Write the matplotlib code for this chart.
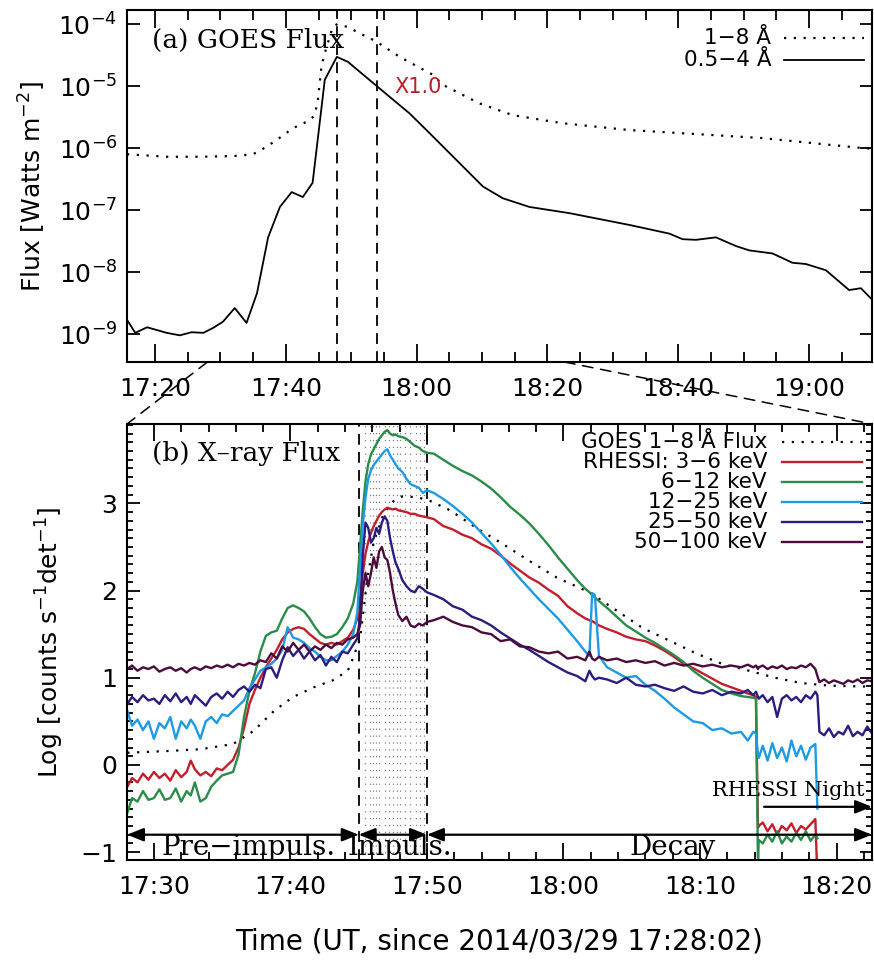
import numpy as np
import matplotlib
matplotlib.use('Agg')
import matplotlib.pyplot as plt
from matplotlib.patches import ConnectionPatch
from matplotlib.ticker import MultipleLocator, NullLocator

plt.rcParams['font.family'] = 'DejaVu Sans'
plt.rcParams['mathtext.fontset'] = 'dejavusans'
plt.rcParams['axes.linewidth'] = 1.5

nan = float('nan')

# ---- GOES light curves, time in minutes after 17:00 UT, log10 flux [W m^-2]
goes_long_t = [15.73, 21.8, 26.9, 31.9, 35.0, 37.05, 38.6, 41.1, 43.7, 44.4, 44.9, 45.45,
               45.95, 47.2, 47.9, 49.5, 51.3, 53.8, 57.4, 62.5, 64.0, 69.6, 74.7, 82.3,
               92.5, 105.2, 112.9, 128.1, 129.6]
goes_long_log = [-6.10, -6.14, -6.14, -6.13, -6.10, -5.98, -5.87, -5.68, -5.55, -5.47, -5.23, -4.69,
                 -4.47, -4.04, -4.00, -4.05, -4.15, -4.28, -4.53, -4.82, -4.98, -5.28, -5.47, -5.60,
                 -5.71, -5.79, -5.84, -6.00, -6.01]

goes_short_t = [15.73, 17.0, 18.8, 21.8, 23.8, 25.6, 27.4, 28.9, 30.4, 32.2, 34.0, 35.6,
                37.3, 39.1, 40.9, 42.6, 44.1, 45.96, 47.8, 49.5, 51.3, 53.9, 58.9, 61.98,
                66.06, 70.13, 73.18, 77.25, 83.36, 92.52, 98.63, 100.66, 102.7, 105.75, 108.8,
                110.84, 114.4, 117.45, 119.49, 122.55, 126.1, 127.9, 129.67]
goes_short_log = [-8.77, -8.98, -8.89, -8.98, -9.02, -8.97, -8.98, -8.90, -8.80, -8.58, -8.82, -8.34,
                  -7.44, -6.95, -6.71, -6.79, -6.56, -4.90, -4.53, -4.61, -4.77, -5.00, -5.44, -5.76,
                  -6.19, -6.62, -6.81, -6.95, -7.05, -7.24, -7.38, -7.47, -7.48, -7.44, -7.58,
                  -7.65, -7.70, -7.85, -7.87, -7.97, -8.29, -8.26, -8.45]

goes_marks = [47.9, 54.0]
flare_class = 'X1.0'

a_ticks = [20, 40, 60, 80, 100, 120]
a_labels = ['17:20', '17:40', '18:00', '18:20', '18:40', '19:00']

# ---- RHESSI count rates (log10 counts s^-1 det^-1), common time grid
t_rhessi = [28.05, 28.4, 28.8, 29.2, 29.6, 30.0, 30.4, 30.8, 31.2, 31.6, 32.0, 32.4, 32.7, 33.0,
            33.4, 33.8, 34.2, 34.6, 35.0,
            35.4, 35.8, 36.2, 36.6, 37.0, 37.4, 37.8, 38.2, 38.6, 39.0, 39.4, 39.8, 40.2, 40.6,
            41.0, 41.4, 41.8, 42.2, 42.6, 43.0, 43.4, 43.8, 44.2, 44.6,
            44.9, 45.1, 45.3, 45.5, 45.7, 45.9, 46.1, 46.3, 46.5, 46.7, 46.9, 47.1, 47.3, 47.5,
            47.7, 47.9, 48.2, 48.5, 48.8, 49.1, 49.4, 49.7, 50.0,
            50.5, 51.2, 51.9, 52.6, 53.3, 54.0, 54.7, 55.4, 56.1, 56.8, 57.5, 58.2, 58.9, 59.6,
            60.3, 61.0, 61.6, 61.9, 62.1, 62.3, 62.6, 63.2, 63.9, 64.6, 65.3, 66.0, 66.7, 67.4,
            68.1, 68.8, 69.5, 70.2, 70.9, 71.6, 72.3, 73.0, 73.5, 73.9,
            74.1, 74.25, 74.3, 74.6, 74.95, 75.3, 75.65, 76.0, 76.35, 76.7, 77.05, 77.4, 77.75,
            78.1, 78.45, 78.6,
            78.75, 79.1, 79.45, 79.8, 80.15, 80.5, 80.85, 81.2, 81.55, 81.9, 82.25, 82.6]

r_3_6 = [-0.25, -0.15, -0.2, -0.1, -0.17, -0.08, -0.15, -0.1, -0.18, -0.06, -0.14, -0.08, 0.05, -0.05,
         -0.12, -0.08, -0.13, -0.04, -0.06,
         0.0, 0.06, 0.2, 0.42, 0.7, 0.86, 1.0, 1.12, 1.22, 1.32, 1.44, 1.52, 1.56, 1.58,
         1.56, 1.5, 1.45, 1.4, 1.38, 1.4, 1.38, 1.42, 1.46, 1.55,
         1.68, 1.9, 2.2, 2.42, 2.56, 2.66, 2.74, 2.8, 2.86, 2.9, 2.93, 2.95, 2.94, 2.93,
         2.94, 2.92, 2.91, 2.9, 2.88, 2.88, 2.86, 2.85, 2.84,
         2.82, 2.74, 2.7, 2.64, 2.6, 2.53, 2.48, 2.4, 2.31, 2.23, 2.15, 2.09, 2.01, 1.94,
         1.82, 1.74, 1.68, 1.66, 1.65, 1.63, 1.6, 1.56, 1.52, 1.47, 1.44, 1.42, 1.37, 1.31,
         1.24, 1.16, 1.11, 1.05, 0.99, 0.93, 0.89, 0.85, 0.82, 0.8,
         0.78, -0.72, -0.7, -0.66, -0.76, -0.68, -0.8, -0.7, -0.75, -0.67, -0.78, -0.7, -0.74,
         -0.68, -0.62, -1.3,
         nan, nan, nan, nan, nan, nan, nan, nan, nan, nan, nan, nan]

r_6_12 = [-0.55, -0.38, -0.42, -0.3, -0.4, -0.38, -0.28, -0.4, -0.38, -0.27, -0.42, -0.3, -0.35, -0.2,
          -0.42, -0.38, -0.25, -0.18, -0.12,
          -0.1, -0.08, 0.12, 0.55, 0.85, 1.05, 1.3, 1.48, 1.52, 1.54, 1.68, 1.8, 1.83, 1.8,
          1.76, 1.68, 1.58, 1.5, 1.46, 1.47, 1.5, 1.58, 1.68, 1.85,
          2.1, 2.5, 2.92, 3.25, 3.45, 3.56, 3.62, 3.68, 3.74, 3.78, 3.82, 3.84, 3.8, 3.78,
          3.79, 3.77, 3.76, 3.74, 3.7, 3.66, 3.64, 3.6, 3.58,
          3.57, 3.5, 3.43, 3.37, 3.32, 3.25, 3.17, 3.07, 2.96, 2.87, 2.77, 2.65, 2.52, 2.38,
          2.25, 2.12, 2.02, 1.98, 1.95, 1.92, 1.88, 1.8, 1.7, 1.6, 1.53, 1.46, 1.4, 1.33,
          1.26, 1.18, 1.08, 1.0, 0.93, 0.86, 0.82, 0.79, 0.78, 0.77,
          0.76, -1.15, -0.86, -0.9, -0.8, -0.88, -0.76, -0.9, -0.82, -0.88, -0.78, -0.86, -0.76,
          -0.87, -0.8, -0.84,
          nan, nan, nan, nan, nan, nan, nan, nan, nan, nan, nan, nan]

r_12_25 = [0.62, 0.45, 0.52, 0.4, 0.5, 0.3, 0.48, 0.42, 0.55, 0.3, 0.5, 0.42, 0.52, 0.45,
           0.3, 0.5, 0.55, 0.48, 0.58,
           0.56, 0.62, 0.68, 0.74, 0.88, 0.98, 1.08, 1.12, 1.16, 1.22, 1.32, 1.58, 1.46, 1.44,
           1.4, 1.34, 1.3, 1.24, 1.2, 1.2, 1.25, 1.3, 1.38, 1.5,
           1.75, 2.25, 2.75, 3.07, 3.28, 3.38, 3.44, 3.48, 3.52, 3.56, 3.6, 3.62, 3.55, 3.5,
           3.45, 3.4, 3.36, 3.28, 3.22, 3.2, 3.18, 3.12, 3.15,
           3.12, 3.05, 2.97, 2.88, 2.78, 2.66, 2.54, 2.41, 2.27, 2.14, 2.02, 1.9, 1.79, 1.68,
           1.55, 1.42, 1.3, 1.25, 1.97, 1.95, 1.25, 1.12, 1.06, 1.0, 1.02, 0.92, 0.85, 0.76,
           0.66, 0.58, 0.5, 0.48, 0.4, 0.42, 0.36, 0.38, 0.28, 0.38,
           0.36, 0.12, 0.08, 0.22, 0.05, 0.25, 0.08, 0.2, 0.04, 0.28, 0.1, 0.22, 0.06,
           0.2, 0.24, -0.5,
           nan, nan, nan, nan, nan, nan, nan, nan, nan, nan, nan, nan]

r_25_50 = [0.7, 0.78, 0.72, 0.8, 0.74, 0.76, 0.7, 0.8, 0.73, 0.82, 0.72, 0.78, 0.7, 0.8,
           0.74, 0.68, 0.78, 0.82, 0.76,
           0.84, 0.78, 0.86, 0.9, 0.84, 0.92, 0.88, 1.1, 1.12, 1.0, 1.2, 1.35, 1.25, 1.32,
           1.22, 1.3, 1.2, 1.26, 1.14, 1.24, 1.18, 1.3, 1.28, 1.38,
           1.45, 1.7, 2.4, 2.78, 2.72, 2.55, 2.6, 2.72, 2.65, 2.78, 2.85, 2.8, 2.6, 2.45,
           2.32, 2.25, 2.12, 2.05, 2.0, 1.98, 2.05, 2.02, 1.98,
           1.95, 1.9, 1.82, 1.78, 1.7, 1.66, 1.6, 1.52, 1.45, 1.38, 1.32, 1.25, 1.18, 1.12,
           1.06, 1.02, 0.96, 1.08, 1.02, 0.98, 1.0, 0.98, 0.94, 1.0, 0.92, 0.9, 0.92, 0.88,
           0.85, 0.9, 0.84, 0.82, 0.86, 0.8, 0.84, 0.82, 0.86, 0.8,
           0.84, 0.78, 0.76, 0.8, 0.72, 0.78, 0.55, 0.76, 0.8, 0.74, 0.78, 0.72, 0.8,
           0.76, 0.84, 0.8,
           0.38, 0.34, 0.42, 0.32, 0.38, 0.35, 0.45, 0.33, 0.38, 0.34, 0.44, 0.36]

r_50_100 = [1.1, 1.14, 1.08, 1.12, 1.1, 1.13, 1.07, 1.1, 1.12, 1.08, 1.11, 1.06, 1.1, 1.12,
            1.09, 1.13, 1.11, 1.14, 1.12,
            1.15, 1.12, 1.16, 1.14, 1.17, 1.15, 1.2, 1.18, 1.28, 1.22, 1.36, 1.3, 1.4, 1.32,
            1.38, 1.3, 1.36, 1.32, 1.38, 1.34, 1.4, 1.38, 1.44, 1.46,
            1.5, 1.6, 2.0, 2.2, 2.05, 2.2, 2.38, 2.26, 2.45, 2.5, 2.38, 2.35, 2.2, 2.0,
            1.85, 1.72, 1.65, 1.7, 1.6, 1.58, 1.62, 1.6, 1.64,
            1.66, 1.7, 1.64, 1.6, 1.58, 1.52, 1.5, 1.42, 1.44, 1.36, 1.35, 1.3, 1.28, 1.3,
            1.22, 1.24, 1.2, 1.3, 1.22, 1.2, 1.24, 1.2, 1.22, 1.18, 1.2, 1.17, 1.19, 1.14,
            1.17, 1.14, 1.16, 1.13, 1.15, 1.12, 1.14, 1.12, 1.15, 1.12,
            1.14, 1.1, 1.12, 1.14, 1.1, 1.13, 1.11, 1.14, 1.1, 1.12, 1.11, 1.14, 1.12,
            1.16, 1.1, 1.02,
            0.95, 0.98, 0.94, 0.97, 0.95, 0.93, 0.97, 0.95, 0.98, 0.94, 0.97, 0.96]

# GOES 1-8 A scaled onto the RHESSI axis
goes_b_t = [28.05, 31.0, 33.4, 35.8, 37.3, 38.8, 40.2, 41.7, 43.1, 44.2, 44.6, 45.1, 45.3, 45.6,
            46.1, 46.8, 47.5, 48.2, 49.3, 50.2, 51.7, 53.6, 55.5, 57.5, 59.5, 61.9, 63.9, 65.8,
            67.7, 69.7, 71.6, 73.6, 75.5, 77.4, 79.4, 81.8, 82.6]
goes_b_val = [0.14, 0.16, 0.18, 0.24, 0.39, 0.62, 0.78, 0.89, 0.97, 1.08, 1.23, 1.45, 1.7, 2.1,
              2.56, 2.87, 3.02, 3.08, 3.07, 3.03, 2.92, 2.72, 2.54, 2.34, 2.15, 1.98, 1.77, 1.57,
              1.43, 1.28, 1.16, 1.08, 1.0, 0.94, 0.91, 0.9, 0.9]

rhessi_bands = ['RHESSI: 3−6 keV', '6−12 keV', '12−25 keV', '25−50 keV', '50−100 keV']
rhessi_rates = [r_3_6, r_6_12, r_12_25, r_25_50, r_50_100]
band_colors = ['#c01f2b', '#2a8c48', '#1d9ae4', '#2d1b80', '#4c0c3b']

impulsive = (45.0, 50.0)
image_frames = [45.47, 45.8, 46.06, 46.28, 46.5, 46.93, 47.23, 47.52, 47.8, 48.03,
                48.4, 48.76, 49.2, 49.49, 49.8]
phase_edges = [28.03, 45.0, 50.0, 82.6]
phase_names = ['Pre−impuls.', 'Impuls.', 'Decay']
phase_label_t = [36.9, 48.0, 68.0]
night_start = 74.7

b_ticks = [30, 40, 50, 60, 70, 80]
b_labels = ['17:30', '17:40', '17:50', '18:00', '18:10', '18:20']

dotted = (0, (1, 3.4))
dashed = (0, (6, 4))

fig = plt.figure(figsize=(8.74, 9.63), dpi=100)
ax1 = fig.add_axes([127 / 874, 1 - 362 / 963, 745 / 874, 352 / 963])
ax2 = fig.add_axes([127 / 874, 1 - 860 / 963, 745 / 874, 436 / 963])

# ---- (a) GOES flux
ax1.plot(goes_long_t, 10 ** np.array(goes_long_log), color='k', lw=1.6, ls=dotted)
ax1.plot(goes_short_t, 10 ** np.array(goes_short_log), color='k', lw=1.3)
for t in goes_marks:
    ax1.axvline(t, color='k', lw=1.3, ls=dashed)
ax1.set_yscale('log')
ax1.set_xlim(15.73, 129.6)
ax1.set_ylim(10 ** -9.45, 10 ** -3.774)
ax1.yaxis.set_minor_locator(NullLocator())
ax1.set_xticks(a_ticks, a_labels)
ax1.xaxis.set_minor_locator(MultipleLocator(5))
ax1.tick_params(which='both', direction='in', top=True, right=True, width=1.3, labelsize=18)
ax1.tick_params(axis='x', which='major', length=13, pad=11)
ax1.tick_params(axis='x', which='minor', length=7)
ax1.tick_params(axis='y', which='major', length=9, pad=7)
ax1.set_ylabel('Flux [Watts m$^{-2}$]', fontsize=18, va='center')
ax1.yaxis.set_label_coords(-0.127, 0.5)

ax1.text(56.6, 10 ** -5.02, flare_class, color='#b5202a', fontsize=15, va='center', ha='left')
ax1.text(0.0335, 0.915, '(a) GOES Flux', transform=ax1.transAxes, family='DejaVu Serif',
         fontsize=19, va='center', ha='left')

# legend rows: label right-aligned, sample line to the right
leg_a = [('1−8 Å', dict(ls=dotted, lw=1.6)), ('0.5−4 Å', dict(ls='-', lw=1.3))]
for i, (label, style) in enumerate(leg_a):
    y = 0.920 - i * 0.0625
    ax1.text(0.8646, y, label, transform=ax1.transAxes, ha='right', va='center', fontsize=15.5)
    ax1.plot([0.882, 0.989], [y, y], transform=ax1.transAxes, color='k', **style)

# ---- (b) X-ray flux
for t in image_frames:
    ax2.axvline(t, color='0.5', lw=0.9, ls=(0, (1, 4.5)))
for t in impulsive:
    ax2.axvline(t, color='k', lw=1.3, ls=dashed)

ax2.plot(goes_b_t, goes_b_val, color='k', lw=1.6, ls=dotted)
for rate, color in zip(rhessi_rates, band_colors):
    ax2.plot(t_rhessi, rate, color=color, lw=1.7)

ax2.set_xlim(28.03, 82.6)
ax2.set_ylim(-1.09, 3.91)
ax2.set_xticks(b_ticks, b_labels)
ax2.xaxis.set_minor_locator(MultipleLocator(2))
ax2.yaxis.set_major_locator(MultipleLocator(1))
ax2.yaxis.set_minor_locator(MultipleLocator(0.1))
ax2.tick_params(which='both', direction='in', top=True, right=True, width=1.3, labelsize=18)
ax2.tick_params(axis='x', which='major', length=12, pad=11)
ax2.tick_params(axis='x', which='minor', length=6)
ax2.tick_params(axis='y', which='major', length=9, pad=7)
ax2.tick_params(axis='y', which='minor', length=4.5)
ax2.set_ylabel('Log [counts s$^{-1}$det$^{-1}$]', fontsize=18, va='center')
ax2.yaxis.set_label_coords(-0.103, 0.5)
ax2.set_xlabel('Time (UT, since 2014/03/29 17:28:02)', fontsize=20, va='center')
ax2.xaxis.set_label_coords(0.5, -0.188)

ax2.text(0.0335, 0.933, '(b) X–ray Flux', transform=ax2.transAxes, family='DejaVu Serif',
         fontsize=19, va='center', ha='left')

leg_b = [('GOES 1−8 Å Flux', dict(color='k', ls=dotted, lw=1.6))]
leg_b += [(name, dict(color=c, lw=1.7)) for name, c in zip(rhessi_bands, band_colors)]
for i, (label, style) in enumerate(leg_b):
    y = 0.9587 - i * 0.0459
    ax2.text(0.8592, y, label, transform=ax2.transAxes, ha='right', va='center', fontsize=15.5)
    ax2.plot([0.8794, 0.9866], [y, y], transform=ax2.transAxes, **style)

# phase arrows along the bottom
arrow_y = -0.80
two_way = dict(arrowstyle='<|-|>,head_length=1.0,head_width=0.4', color='k', lw=1.6,
               shrinkA=0, shrinkB=0)
for a, b in zip(phase_edges[:-1], phase_edges[1:]):
    ax2.annotate('', xy=(b, arrow_y), xytext=(a, arrow_y), arrowprops=two_way,
                 annotation_clip=False)
for name, t in zip(phase_names, phase_label_t):
    ax2.text(t, -0.95, name, family='DejaVu Serif', fontsize=20, ha='center', va='center')

one_way = dict(arrowstyle='-|>,head_length=1.0,head_width=0.4', color='k', lw=1.6,
               shrinkA=0, shrinkB=0)
ax2.annotate('', xy=(phase_edges[-1], -0.48), xytext=(night_start, -0.48), arrowprops=one_way,
             annotation_clip=False)
ax2.text(76.5, -0.29, 'RHESSI Night', family='DejaVu Serif', fontsize=15, ha='center', va='center')

# zoom guides from panel (a) to the time range of panel (b)
xb0, xb1 = ax2.get_xlim()
for xb in (xb0, xb1):
    con = ConnectionPatch(xyA=(xb, 0), coordsA=ax1.get_xaxis_transform(),
                          xyB=(xb, 1), coordsB=ax2.get_xaxis_transform(),
                          color='k', lw=1.1, ls=(0, (7, 5)))
    fig.add_artist(con)

fig.savefig('out.png', dpi=100)
